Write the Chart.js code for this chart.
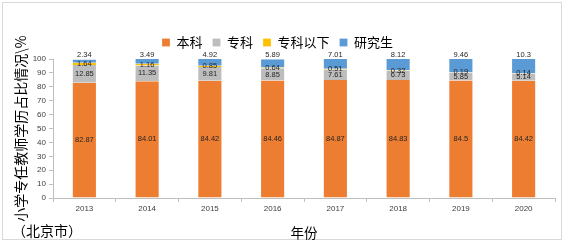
<!DOCTYPE html>
<html><head><meta charset="utf-8">
<script src="https://cdn.jsdelivr.net/npm/chart.js@4/dist/chart.umd.min.js"></script>
<style>
html,body{margin:0;padding:0;background:#fff;}
#wrap{position:relative;width:566px;height:244px;}
#frame{position:absolute;left:2px;top:2px;width:560px;height:238px;border:1px solid #d9d9d9;box-sizing:border-box;}
#note{position:absolute;left:12px;top:220px;font:14px "Noto Sans CJK SC";color:#000;}
canvas{position:absolute;left:0;top:0;}
</style></head>
<body><div id="wrap"><div id="frame"></div><canvas id="c" width="566" height="244"></canvas><div id="note">（北京市）</div></div>
<script>
const years = ['2013','2014','2015','2016','2017','2018','2019','2020'];
const seriesNames = ['本科','专科','专科以下','研究生'];
const benke = [82.87, 84.01, 84.42, 84.46, 84.87, 84.83, 84.5, 84.42];
const zhuanke = [12.85, 11.35, 9.81, 8.85, 7.61, 6.73, 5.85, 5.14];
const zhuankeBelow = [1.64, 1.16, 0.85, 0.64, 0.51, 0.32, 0.19, 0.14];
const yanjiusheng = [2.34, 3.49, 4.92, 5.89, 7.01, 8.12, 9.46, 10.3];
const yTicks = [0,10,20,30,40,50,60,70,80,90,100];
const colors = ['#ED7D31','#BDBDBD','#FFC000','#5B9BD5'];
const values = [benke, zhuanke, zhuankeBelow, yanjiusheng];

const labelPlugin = {
  id:'labels',
  afterDatasetsDraw(chart){
    const ctx = chart.ctx;
    ctx.save();
    ctx.font = '7.5px "Liberation Sans"';
    ctx.fillStyle = '#262626';
    ctx.textAlign = 'center';
    ctx.textBaseline = 'middle';
    chart.data.datasets.forEach((ds, di) => {
      const meta = chart.getDatasetMeta(di);
      meta.data.forEach((el, i) => {
        const v = ds.data[i];
        if (di === 3) {
          ctx.fillText(String(v), el.x, el.y - 4);
        } else {
          ctx.fillText(String(v), el.x, (el.y + el.base) / 2);
        }
      });
    });
    ctx.restore();
  }
};

new Chart(document.getElementById('c'), {
  type:'bar',
  data:{
    labels: years,
    datasets: seriesNames.map((n, i) => ({
      label:n, data: values[i], backgroundColor: colors[i],
      borderColor:'rgba(255,255,255,0.45)', borderWidth:{left:1,right:1,top:0,bottom:0}, borderSkipped:false,
      barPercentage:0.4, categoryPercentage:1
    }))
  },
  options:{
    responsive:false, animation:false,
    layout:{padding:{top:26,right:11,bottom:0,left:0}},
    plugins:{
      legend:{display:true, position:'top',
        labels:{boxWidth:8, boxHeight:8, padding:10, color:'#000', font:{family:'"Noto Sans CJK SC"', size:13}}},
      tooltip:{enabled:false}
    },
    scales:{
      x:{stacked:true,
        grid:{display:true, drawOnChartArea:false, tickLength:4, color:'#BFBFBF', offset:true},
        border:{color:'#BFBFBF'},
        ticks:{font:{family:'"Liberation Sans"', size:8}, color:'#404040', padding:2, maxRotation:0},
        title:{display:true, text:'年份', font:{family:'"Noto Sans CJK SC"', size:13.5}, color:'#000', padding:{top:0,bottom:3}},
        afterFit(s){ s.height = 46; }
      },
      y:{stacked:true, min:0, max:100,
        afterBuildTicks(s){ s.ticks = yTicks.map(v => ({value:v})); },
        grid:{display:true, drawOnChartArea:false, tickLength:4, color:'#BFBFBF'},
        border:{color:'#BFBFBF'},
        ticks:{font:{family:'"Liberation Sans"', size:8}, color:'#404040', padding:3},
        title:{display:true, text:'小学专任教师学历占比情况\\%', font:{family:'"Noto Sans CJK SC"', size:14}, color:'#000', padding:{top:12,bottom:0}},
        afterFit(s){ s.width = 53; }
      }
    }
  },
  plugins:[labelPlugin]
});
</script></body></html>
